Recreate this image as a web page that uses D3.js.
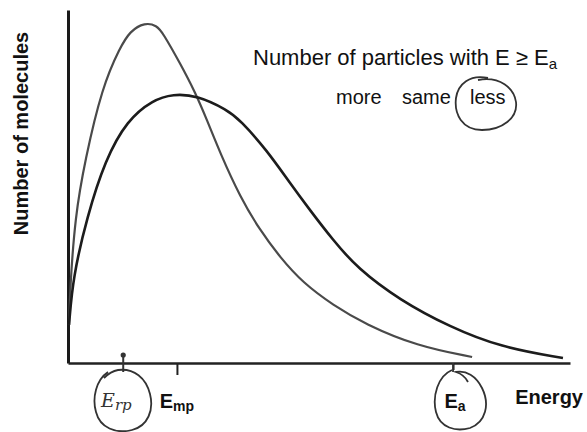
<!DOCTYPE html>
<html>
<head>
<meta charset="utf-8">
<script src="https://cdn.jsdelivr.net/npm/d3@7"></script>
<style>
  html, body { margin: 0; padding: 0; background: #fff; }
  svg { display: block; }
</style>
</head>
<body>
<svg id="chart" width="587" height="432"></svg>
<script>
// ---- data ----
const tallEnergy = [0.2, 0.4, 1.4, 3.4, 6.8, 10.4, 12.35, 15.3, 17.7, 18.9, 22.3, 25.3, 27.7, 30.3, 34.3, 38.2, 42.2, 46.8, 52.8, 59.2, 69.5, 80.5];
const tallCount  = [10.8, 20.7, 41.4, 57.5, 78.2, 89.5, 94.0, 96.5, 95.6, 93.5, 85.0, 76.8, 68.8, 59.5, 47.0, 37.7, 30.0, 22.7, 16.4, 11.0, 4.8, 1.7];
const wideEnergy = [0.2, 1.0, 3.8, 7.4, 11.8, 16.9, 20.9, 25.7, 31.7, 34.3, 39.6, 44.2, 48.2, 52.8, 57.6, 66.1, 76.1, 86.1, 98.6];
const wideCount  = [10.8, 24.4, 41.4, 57.5, 68.8, 74.5, 76.2, 75.8, 71.7, 68.8, 60.3, 51.0, 43.3, 34.8, 26.9, 17.8, 10.2, 4.5, 1.4];
const tickValues = [21.7, 76.7];
const tickSubs   = ["mp", "a"];
const handTick   = 11.0;
const yTitle = "Number of molecules";
const xTitle = "Energy";
const noteTitle = "Number of particles with E \u2265 E";
const choices = ["more", "same", "less"];

const svg = d3.select("#chart");
const font = "'Liberation Sans', Arial, sans-serif";

const x = d3.scaleLinear().domain([0, 100]).range([68, 570]);
const y = d3.scaleLinear().domain([0, 100]).range([363, 10]);

// axes
const yAxis = svg.append("g").attr("transform", `translate(${x(0)},0)`)
  .call(d3.axisLeft(y).tickValues([]).tickSizeOuter(0));
yAxis.select(".domain").attr("stroke", "#1a1a1a").attr("stroke-width", 3);

const xAxis = svg.append("g").attr("transform", `translate(0,${y(0)})`)
  .call(d3.axisBottom(x).tickValues(tickValues).tickSize(11).tickSizeOuter(0).tickFormat(""));
xAxis.select(".domain").attr("stroke", "#222").attr("stroke-width", 2.5);
xAxis.selectAll(".tick line").attr("stroke", "#222").attr("stroke-width", 2)
  .attr("y2", (d, i) => i === 0 ? 12 : 7);

// tick labels  E_mp, E_a
tickValues.forEach((v, i) => {
  const t = svg.append("text")
    .attr("x", x(v) + (i === 0 ? 0 : 2)).attr("y", 408)
    .attr("text-anchor", "middle")
    .attr("font-family", font).attr("font-weight", "bold").attr("font-size", 20)
    .attr("fill", "#111");
  t.append("tspan").text("E");
  t.append("tspan").attr("font-size", 14).attr("dy", 3).text(tickSubs[i]);
});

// axis titles
svg.append("text")
  .attr("transform", `translate(28,${(27 + 240) / 2}) rotate(-90)`)
  .attr("text-anchor", "middle")
  .attr("font-family", font).attr("font-weight", "bold").attr("font-size", 20)
  .attr("fill", "#111").text(yTitle);

svg.append("text")
  .attr("x", 583).attr("y", 404).attr("text-anchor", "end")
  .attr("font-family", font).attr("font-weight", "bold").attr("font-size", 20)
  .attr("fill", "#111").text(xTitle);

// curves
const line = d3.line().x(d => x(d[0])).y(d => y(d[1])).curve(d3.curveBasis);
svg.append("path")
  .datum(tallEnergy.map((e, i) => [e, tallCount[i]]))
  .attr("d", line).attr("fill", "none").attr("stroke", "#4a4a4a").attr("stroke-width", 2.2);
svg.append("path")
  .datum(wideEnergy.map((e, i) => [e, wideCount[i]]))
  .attr("d", line).attr("fill", "none").attr("stroke", "#1c1c1c").attr("stroke-width", 2.6);

// note text
const nt = svg.append("text")
  .attr("x", 253).attr("y", 65)
  .attr("font-family", font).attr("font-size", 22).attr("fill", "#111");
nt.append("tspan").text(noteTitle);
nt.append("tspan").attr("font-size", 15).attr("dy", 4).text("a");

const choiceX = [336, 402, 470];
choices.forEach((c, i) => {
  svg.append("text").attr("x", choiceX[i]).attr("y", 104)
    .attr("font-family", font).attr("font-size", 20).attr("fill", "#111").text(c);
});

// handwritten marks
const pen = "#333";
// circle around "less"
svg.append("path")
  .attr("d", "M488,78 C470,74 458,84 456,98 C454,114 462,130 482,130 C502,130 518,118 516,102 C514,88 500,76 478,80")
  .attr("fill", "none").attr("stroke", pen).attr("stroke-width", 1.8);
// handwritten tick with dot
svg.append("line").attr("x1", x(handTick)).attr("x2", x(handTick)).attr("y1", 354).attr("y2", 372)
  .attr("stroke", pen).attr("stroke-width", 2);
svg.append("circle").attr("cx", x(handTick)).attr("cy", 355).attr("r", 2.6).attr("fill", pen);
// circle around handwritten Emp
svg.append("path")
  .attr("d", "M108,372 C96,380 92,398 96,412 C100,428 116,434 132,430 C148,426 154,410 150,394 C146,378 134,368 118,370 C112,371 108,374 104,378")
  .attr("fill", "none").attr("stroke", pen).attr("stroke-width", 1.8);
const hw = svg.append("text").attr("x", 101).attr("y", 407)
  .attr("font-family", "'DejaVu Serif', serif").attr("font-style", "italic")
  .attr("font-size", 19).attr("fill", "#333");
hw.append("tspan").text("E");
hw.append("tspan").attr("font-size", 15).attr("dy", 3).text("rp");
// Ea hand tick and loop
svg.append("line").attr("x1", x(tickValues[1])).attr("x2", x(tickValues[1])).attr("y1", 363).attr("y2", 372)
  .attr("stroke", pen).attr("stroke-width", 1.8);
svg.append("path")
  .attr("d", "M452,370 C438,376 432,396 436,412 C440,428 456,432 470,428 C486,422 490,404 482,388 C476,376 466,370 456,372 C462,374 466,378 468,382")
  .attr("fill", "none").attr("stroke", pen).attr("stroke-width", 1.8);
</script>
</body>
</html>
